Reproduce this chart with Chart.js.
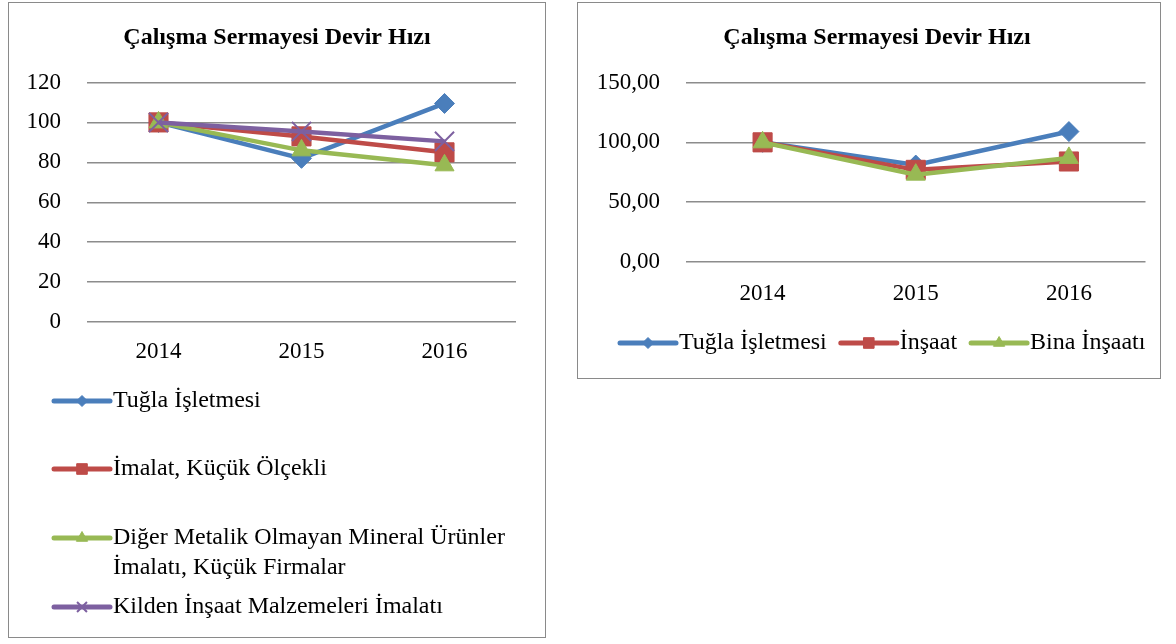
<!DOCTYPE html>
<html>
<head>
<meta charset="utf-8">
<title>Çalışma Sermayesi Devir Hızı</title>
<script src="https://cdn.jsdelivr.net/npm/chart.js"></script>
<style>
  body { margin: 0; background: #fff; }
  .box { position: absolute; border: 1px solid #8a8a8a; box-sizing: border-box; background: #fff; }
  #left-box { left: 8px; top: 2px; width: 538px; height: 636px; }
  #right-box { left: 577px; top: 2px; width: 584px; height: 377px; }
</style>
</head>
<body>
<div class="box" id="left-box"><canvas id="left-chart" width="536" height="634"></canvas></div>
<div class="box" id="right-box"><canvas id="right-chart" width="582" height="375"></canvas></div>
<script>
const years = ["2014", "2015", "2016"];
const chartTitle = "Çalışma Sermayesi Devir Hızı";

// left chart
const leftLabels = ["Tuğla İşletmesi", "İmalat, Küçük Ölçekli",
  ["Diğer Metalik Olmayan Mineral Ürünler", "İmalatı, Küçük Firmalar"],
  "Kilden İnşaat Malzemeleri İmalatı"];
const tuglaLeft = [100, 82, 109.5];
const imalatKucuk = [100, 93, 85];
const digerMetalik = [100, 86, 78.5];
const kildenInsaat = [100, 95.5, 90.5];
const leftTicks = [0, 20, 40, 60, 80, 100, 120];

// right chart
const rightLabels = ["Tuğla İşletmesi", "İnşaat", "Bina İnşaatı"];
const tuglaRight = [100, 81, 109];
const insaat = [100, 77, 84];
const binaInsaati = [100, 73, 87];
const rightTicks = [0, 50, 100, 150];

const FONT = "'Liberation Serif', 'Times New Roman', serif";
const BLUE = "#4A7EBB", RED = "#BE4B48", GREEN = "#98B954", PURPLE = "#7D60A0";

function series(label, data, color, style, radius, bw) {
  return {
    label: label, data: data,
    borderColor: color, backgroundColor: color,
    borderWidth: 4.5, tension: 0,
    pointStyle: style, pointRadius: radius, pointHoverRadius: radius,
    pointBackgroundColor: color, pointBorderColor: color, pointBorderWidth: bw
  };
}

// title + Excel-like legend: a short line with the marker in the middle, then the text
const excelLegend = {
  id: "excelLegend",
  afterDraw(chart, args, opts) {
    const ctx = chart.ctx;
    ctx.save();
    ctx.fillStyle = "#000";
    ctx.textBaseline = "middle";
    ctx.textAlign = "center";
    ctx.font = "bold 24px " + FONT;
    ctx.fillText(chartTitle, chart.width / 2 + opts.titleShift, 35);

    ctx.font = "24px " + FONT;
    ctx.textAlign = "left";
    let x = opts.x;
    chart.data.datasets.forEach((ds, i) => {
      const y = opts.vertical ? opts.rows[i] : opts.y;
      const x0 = opts.vertical ? opts.x : x;
      ctx.strokeStyle = ds.borderColor;
      ctx.lineWidth = 5;
      ctx.lineCap = "round";
      ctx.beginPath();
      ctx.moveTo(x0, y);
      ctx.lineTo(x0 + 56, y);
      ctx.stroke();
      ctx.fillStyle = ds.borderColor;
      ctx.lineCap = "butt";
      ctx.lineWidth = ds.pointStyle === "crossRot" ? 2 : 1;
      Chart.helpers.drawPoint(ctx, {
        pointStyle: ds.pointStyle, rotation: 0,
        radius: opts.markerRadius[ds.pointStyle],
        borderWidth: ctx.lineWidth
      }, x0 + 28, y);
      ctx.fillStyle = "#000";
      const lines = [].concat(opts.labels[i]);
      lines.forEach((t, k) => ctx.fillText(t, x0 + 59, y + k * 30));
      if (!opts.vertical) {
        x = x0 + 59 + ctx.measureText(lines[0]).width + 14;
      }
    });
    ctx.restore();
  }
};

const markerRadius = { rectRot: 5.5, rect: 7.5, triangle: 6.5, crossRot: 7 };

function baseOptions(yMin, yMax, step, fmt, rightPad, bottomPad, yWidth, xPad, legend) {
  return {
    responsive: false,
    animation: false,
    layout: { padding: { left: 0, right: rightPad, top: 79.5, bottom: bottomPad } },
    plugins: {
      legend: { display: false },
      tooltip: { enabled: false },
      title: { display: false },
      excelLegend: legend
    },
    scales: {
      x: {
        offset: true,
        grid: { display: false, drawTicks: false },
        border: { display: false },
        ticks: { color: "#000", padding: xPad, font: { family: FONT, size: 23 } },
        afterFit(scale) { scale.height = 42; }
      },
      y: {
        min: yMin, max: yMax,
        grid: { color: "#8c8c8c", lineWidth: 1.5, drawTicks: false },
        border: { display: false },
        ticks: { stepSize: step, color: "#000", padding: 26, font: { family: FONT, size: 23 }, callback: fmt },
        afterFit(scale) { scale.width = yWidth; }
      }
    }
  };
}

const leftSets = [
  series(leftLabels[0], tuglaLeft, BLUE, "rectRot", 10, 1),
  series(leftLabels[1], imalatKucuk, RED, "rect", 13.5, 1),
  series(leftLabels[2], digerMetalik, GREEN, "triangle", 11, 1),
  series(leftLabels[3], kildenInsaat, PURPLE, "crossRot", 13.5, 2)
];
leftSets.forEach((d, i) => d.order = leftSets.length - 1 - i);

new Chart(document.getElementById("left-chart"), {
  type: "line",
  data: { labels: years, datasets: leftSets },
  options: baseOptions(leftTicks[0], leftTicks[leftTicks.length - 1], 20,
    v => String(v), 29, 273, 78, 16,
    { vertical: true, x: 45, rows: [398, 466, 535, 604], labels: leftLabels,
      markerRadius: markerRadius, titleShift: 0 }),
  plugins: [excelLegend]
});

const rightSets = [
  series(rightLabels[0], tuglaRight, BLUE, "rectRot", 10, 1),
  series(rightLabels[1], insaat, RED, "rect", 13.5, 1),
  series(rightLabels[2], binaInsaati, GREEN, "triangle", 11, 1)
];
rightSets.forEach((d, i) => d.order = rightSets.length - 1 - i);

new Chart(document.getElementById("right-chart"), {
  type: "line",
  data: { labels: years, datasets: rightSets },
  options: baseOptions(rightTicks[0], rightTicks[rightTicks.length - 1], 50,
    v => v.toFixed(2).replace(".", ","), 11, 74, 108, 18,
    { vertical: false, x: 42, y: 340, labels: rightLabels,
      markerRadius: markerRadius, titleShift: 8 }),
  plugins: [excelLegend]
});
</script>
</body>
</html>
